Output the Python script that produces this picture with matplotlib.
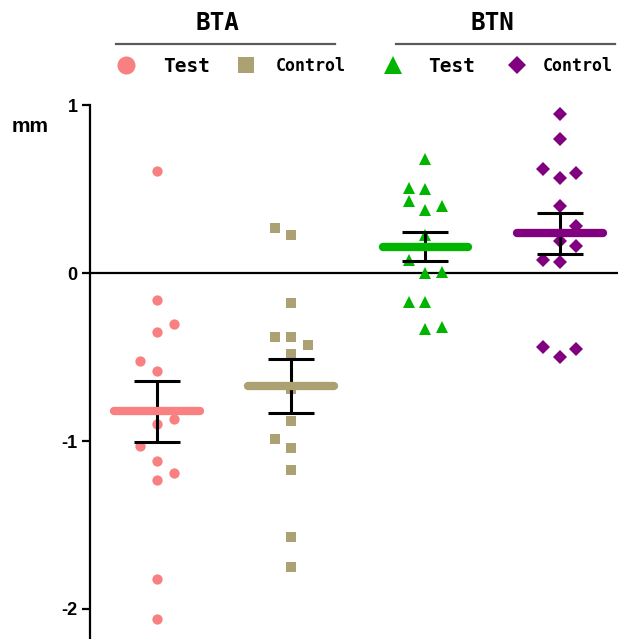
import numpy as np
import matplotlib
matplotlib.use("Agg")
import matplotlib.pyplot as plt
from matplotlib.lines import Line2D

# ---- data ----
groups = ["BTA", "BTN"]
series_labels = ["Test", "Control", "Test", "Control"]
bta_test = [0.61, -0.16, -0.30, -0.35, -0.52, -0.58, -0.90, -0.87, -1.03, -1.12, -1.19, -1.23, -1.82, -2.06]
bta_control = [0.27, 0.23, -0.18, -0.38, -0.38, -0.43, -0.48, -0.69, -0.88, -0.99, -1.04, -1.17, -1.57, -1.75]
btn_test = [0.68, 0.51, 0.50, 0.43, 0.40, 0.38, 0.23, 0.08, 0.00, 0.01, -0.17, -0.17, -0.33, -0.32]
btn_control = [0.95, 0.80, 0.62, 0.60, 0.57, 0.40, 0.28, 0.19, 0.16, 0.08, 0.07, -0.44, -0.50, -0.45]
yticks = [-2, -1, 0, 1]
ytick_labels = ["-2", "-1", "0", "1"]
y_unit = "mm"

# ---- layout / style (not data) ----
jit1 = [0, 0, 1, 0, -1, 0, 0, 1, -1, 0, 1, 0, 0, 0]
jit2 = [-1, 0, 0, -1, 0, 1, 0, 0, 0, -1, 0, 0, 0, 0]
jit3 = [0, -1, 0, -1, 1, 0, 0, -1, 0, 1, -1, 0, 0, 1]
jit4 = [0, 0, -1, 1, 0, 0, 1, 0, 1, -1, 0, -1, 0, 1]
series = [bta_test, bta_control, btn_test, btn_control]
jitters = [jit1, jit2, jit3, jit4]
colors = ["#F88080", "#ACA172", "#00B400", "#800080"]
markers = ["o", "s", "^", "D"]
msizes = [7.4, 7.4, 8.2, 7.0]
jit_step = 0.123

W, H = 618, 639
fig = plt.figure(figsize=(W / 100, H / 100), dpi=100)

def fx(px):
    return px / W

def fy(py):
    return 1 - py / H

ax = fig.add_axes([fx(90), 0, fx(618) - fx(90), fy(105.5)])
ax.set_xlim(0.501, 4.434)
ax.set_ylim(-2.18, 1)

for i, (vals, jit) in enumerate(zip(series, jitters)):
    pos = i + 1
    v = np.array(vals)
    xs = pos + np.array(jit) * jit_step
    ax.plot(xs, v, linestyle="none", marker=markers[i], markersize=msizes[i],
            color=colors[i], markeredgewidth=0, zorder=2, clip_on=False)
    m = v.mean()
    sem = v.std(ddof=1) / np.sqrt(len(v))
    ax.errorbar([pos], [m], yerr=[sem], fmt="none", ecolor="black",
                elinewidth=2.2, capsize=16.5, capthick=2.2, zorder=3)
    ax.plot([pos - 0.32, pos + 0.32], [m, m], color=colors[i], lw=6,
            solid_capstyle="round", zorder=4)

ax.axhline(0, color="black", lw=1.6, zorder=1)

for s in ["top", "right", "bottom"]:
    ax.spines[s].set_visible(False)
ax.spines["left"].set_linewidth(1.6)
ax.set_xticks([])
ax.set_yticks(yticks)
ax.set_yticklabels(ytick_labels)
ax.tick_params(axis="y", length=6, width=1.6, pad=3, labelsize=13)
for lab in ax.get_yticklabels():
    lab.set_fontfamily("Liberation Sans")
    lab.set_fontweight("bold")

fig.text(fx(12), fy(126), y_unit, ha="left", va="center",
         fontsize=15, fontweight="bold", family="Liberation Sans")

# ---- header ----
hdr_font = ["DejaVu Sans Mono"]
fig.text(fx(217), fy(23), groups[0], ha="center", va="center",
         fontsize=17.5, fontweight="bold", family=hdr_font)
fig.text(fx(492), fy(23), groups[1], ha="center", va="center",
         fontsize=17.5, fontweight="bold", family=hdr_font)
fig.add_artist(Line2D([fx(116), fx(335)], [fy(43.5), fy(43.5)],
                      transform=fig.transFigure, color="#5a5a5a", lw=1.6))
fig.add_artist(Line2D([fx(396), fx(615)], [fy(43.5), fy(43.5)],
                      transform=fig.transFigure, color="#5a5a5a", lw=1.6))

leg_marker_x = [126, 246, 393, 517]
leg_text_x = [163, 276, 428, 543]
leg_sizes = [14, 12, 14, 12]
leg_msizes = [13, 11, 12.5, 9.3]
for i in range(4):
    fig.add_artist(Line2D([fx(leg_marker_x[i])], [fy(65)], transform=fig.transFigure,
                          linestyle="none", marker=markers[i], markersize=leg_msizes[i],
                          color=colors[i], markeredgewidth=0))
    fig.text(fx(leg_text_x[i]), fy(66), series_labels[i], ha="left", va="center",
             fontsize=leg_sizes[i], fontweight="bold", family=hdr_font)

fig.savefig("out.png", dpi=100)
